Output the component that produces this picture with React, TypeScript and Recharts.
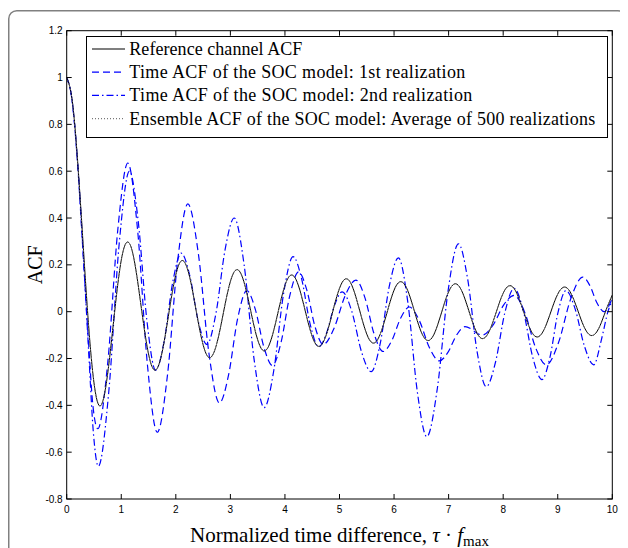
import React from "react";
import { LineChart, Line, XAxis, YAxis } from "recharts";

// reference channel ACF, sampled every 0.1 of tau*fmax from 0 to 10
const REF_ACF = [
  1.0, 0.904, 0.643, 0.291, -0.055, -0.304, -0.402, -0.343, -0.169, 0.045,
  0.22, 0.296, 0.26, 0.13, -0.038, -0.181, -0.248, -0.219, -0.11, 0.034,
  0.158, 0.217, 0.192, 0.097, -0.031, -0.141, -0.195, -0.173, -0.088, 0.028,
  0.129, 0.178, 0.159, 0.081, -0.026, -0.12, -0.166, -0.148, -0.075, 0.024,
  0.112, 0.155, 0.139, 0.07, -0.023, -0.106, -0.147, -0.131, -0.067, 0.022,
  0.1, 0.139, 0.125, 0.063, -0.021, -0.096, -0.133, -0.119, -0.06, 0.02,
  0.092, 0.127, 0.114, 0.058, -0.019, -0.088, -0.122, -0.11, -0.056, 0.019,
  0.085, 0.118, 0.106, 0.054, -0.018, -0.082, -0.114, -0.102, -0.052, 0.017,
  0.079, 0.11, 0.099, 0.05, -0.017, -0.077, -0.107, -0.096, -0.049, 0.017,
  0.075, 0.104, 0.094, 0.048, -0.016, -0.073, -0.101, -0.091, -0.046, 0.016,
  0.071,
];

// ensemble average lies on top of the reference curve
const ENSEMBLE_ACF = [
  1.0, 0.904, 0.643, 0.291, -0.055, -0.304, -0.402, -0.343, -0.169, 0.045,
  0.22, 0.296, 0.26, 0.13, -0.038, -0.181, -0.248, -0.219, -0.11, 0.034,
  0.158, 0.217, 0.192, 0.097, -0.031, -0.141, -0.195, -0.173, -0.088, 0.028,
  0.129, 0.178, 0.159, 0.081, -0.026, -0.12, -0.166, -0.148, -0.075, 0.024,
  0.112, 0.155, 0.139, 0.07, -0.023, -0.106, -0.147, -0.131, -0.067, 0.022,
  0.1, 0.139, 0.125, 0.063, -0.021, -0.096, -0.133, -0.119, -0.06, 0.02,
  0.092, 0.127, 0.114, 0.058, -0.019, -0.088, -0.122, -0.11, -0.056, 0.019,
  0.085, 0.118, 0.106, 0.054, -0.018, -0.082, -0.114, -0.102, -0.052, 0.017,
  0.079, 0.11, 0.099, 0.05, -0.017, -0.077, -0.107, -0.096, -0.049, 0.017,
  0.075, 0.104, 0.094, 0.048, -0.016, -0.073, -0.101, -0.091, -0.046, 0.016,
  0.071,
];

// 1st realization (dashed)
const SOC1_TAU = [
  0, 0.1, 0.2, 0.3, 0.4, 0.48, 0.57, 0.753, 0.937, 1.12, 1.3, 1.48, 1.66,
  1.847, 2.033, 2.22, 2.413, 2.607, 2.8, 2.967, 3.133, 3.3, 3.457, 3.613, 3.77,
  3.93, 4.09, 4.25, 4.4, 4.55, 4.7, 4.9, 5.1, 5.3, 5.467, 5.633, 5.8, 5.96,
  6.12, 6.28, 6.463, 6.647, 6.83, 6.987, 7.143, 7.3, 7.407, 7.513, 7.62, 7.813,
  8.007, 8.2, 8.397, 8.593, 8.79, 9.013, 9.237, 9.46, 9.59, 9.72, 9.85, 10,
];
const SOC1_ACF = [
  1.0, 0.9, 0.63, 0.25, -0.13, -0.4, -0.5, -0.216, 0.351, 0.635, 0.347, -0.228,
  -0.515, -0.271, 0.216, 0.46, 0.248, -0.178, -0.39, -0.27, -0.03, 0.09, 0.01,
  -0.15, -0.23, -0.13, 0.07, 0.17, 0.093, -0.063, -0.14, -0.071, 0.066, 0.135,
  0.059, -0.094, -0.17, -0.123, -0.028, 0.02, -0.038, -0.153, -0.21, -0.174,
  -0.101, -0.064, -0.073, -0.091, -0.1, -0.058, 0.028, 0.07, -0.004, -0.153,
  -0.227, -0.133, 0.054, 0.148, 0.111, 0.037, 0.0, 0.06,
];

// 2nd realization (dash-dot)
const SOC2_TAU = [
  0, 0.1, 0.2, 0.3, 0.4, 0.49, 0.58, 0.77, 0.96, 1.15, 1.31, 1.47, 1.63,
  1.787, 1.943, 2.1, 2.257, 2.413, 2.57, 2.737, 2.903, 3.07, 3.253, 3.437, 3.62,
  3.797, 3.973, 4.15, 4.307, 4.463, 4.62, 4.763, 4.907, 5.05, 5.227, 5.403,
  5.58, 5.747, 5.913, 6.08, 6.253, 6.427, 6.6, 6.793, 6.987, 7.18, 7.35, 7.52,
  7.69, 7.86, 8.03, 8.2, 8.37, 8.54, 8.71, 8.857, 9.003, 9.15, 9.32, 9.49,
  9.66, 9.8, 9.92, 10,
];
const SOC2_ACF = [
  1.0, 0.9, 0.64, 0.26, -0.16, -0.52, -0.66, -0.345, 0.285, 0.6, 0.388, -0.038,
  -0.25, -0.125, 0.125, 0.25, 0.153, -0.043, -0.14, -0.005, 0.265, 0.4, 0.198,
  -0.208, -0.41, -0.249, 0.074, 0.235, 0.139, -0.054, -0.15, -0.091, 0.026,
  0.085, 0.0, -0.171, -0.256, -0.135, 0.109, 0.23, 0.039, -0.343, -0.534,
  -0.328, 0.084, 0.29, 0.138, -0.168, -0.32, -0.215, -0.005, 0.1, 0.003,
  -0.193, -0.29, -0.195, -0.005, 0.09, 0.011, -0.148, -0.227, -0.12, 0.0, 0.05,
];

const X_TICKS = [0, 1, 2, 3, 4, 5, 6, 7, 8, 9, 10];
const Y_TICKS = [-0.8, -0.6, -0.4, -0.2, 0, 0.2, 0.4, 0.6, 0.8, 1, 1.2];

const LEGEND_LABELS = [
  "Reference channel ACF",
  "Time ACF of the SOC model: 1st realization",
  "Time ACF of the SOC model: 2nd realization",
  "Ensemble ACF of the SOC model: Average of 500 realizations",
];

const refData = REF_ACF.map((v, i) => ({ t: i / 10, v }));
const ensData = ENSEMBLE_ACF.map((v, i) => ({ t: i / 10, v }));
const soc1Data = SOC1_TAU.map((t, i) => ({ t, v: SOC1_ACF[i] }));
const soc2Data = SOC2_TAU.map((t, i) => ({ t, v: SOC2_ACF[i] }));

// wrapper coords (page minus 8px body margin)
const W = 620, H = 540;
const PLOT_L = 58.7, PLOT_R = 604.3, PLOT_T = 22.7, PLOT_B = 491;

const BLUE = "#0000ff";
const DASH = "7 4";
const DASHDOT = "7 3 1.5 3";
const DOT = "1 2";
const SERIF = "'Liberation Serif', 'Times New Roman', serif";
const SANS = "'Liberation Sans', Arial, sans-serif";

// rendered widths of the legend strings (Computer Modern is wider than Times)
const LEGEND_TEXT_W = [173, 336, 343, 466];

const fmt = (v: number) => (v < 0 ? "-" + Math.abs(v) : String(v));

const YTick = ({ y, payload }: any) => (
  <g>
    <line x1={PLOT_L} x2={PLOT_L + 5} y1={y} y2={y} stroke="#000" />
    <line x1={PLOT_R - 5} x2={PLOT_R} y1={y} y2={y} stroke="#000" />
    <text x={PLOT_L - 4} y={y} textAnchor="end" dominantBaseline="central"
      fontFamily={SANS} fontSize={10} fill="#000">{fmt(payload.value)}</text>
  </g>
);

const XTick = ({ x, payload }: any) => (
  <g>
    <line x1={x} x2={x} y1={PLOT_B - 5} y2={PLOT_B} stroke="#000" />
    <line x1={x} x2={x} y1={PLOT_T} y2={PLOT_T + 5} stroke="#000" />
    <text x={x} y={PLOT_B + 10} textAnchor="middle" dominantBaseline="central"
      fontFamily={SANS} fontSize={10} fill="#000">{payload.value}</text>
  </g>
);

const legendStyles = [
  { stroke: "#000", dash: undefined },
  { stroke: BLUE, dash: DASH },
  { stroke: BLUE, dash: DASHDOT },
  { stroke: "#777", dash: DOT },
];

export default function App() {
  return (
    <div style={{ position: "relative", width: W, height: H, overflow: "hidden", background: "#fff" }}>
      <LineChart width={W} height={H} margin={{ top: PLOT_T, right: W - PLOT_R, bottom: 0, left: 0 }}>
        <XAxis type="number" dataKey="t" domain={[0, 10]} ticks={X_TICKS} interval={0}
          tick={<XTick />} tickLine={false} axisLine={false} height={H - PLOT_B} allowDataOverflow />
        <YAxis type="number" domain={[-0.8, 1.2]} ticks={Y_TICKS} interval={0}
          tick={<YTick />} tickLine={false} axisLine={false} width={PLOT_L} allowDataOverflow />
        <Line data={soc1Data} dataKey="v" type="monotone" stroke={BLUE} strokeWidth={1.2}
          strokeDasharray={DASH} dot={false} isAnimationActive={false} />
        <Line data={soc2Data} dataKey="v" type="monotone" stroke={BLUE} strokeWidth={1.2}
          strokeDasharray={DASHDOT} dot={false} isAnimationActive={false} />
        <Line data={refData} dataKey="v" type="natural" stroke="#000" strokeWidth={1}
          dot={false} isAnimationActive={false} />
        <Line data={ensData} dataKey="v" type="natural" stroke="#8a8a8a" strokeWidth={1}
          strokeDasharray={DOT} dot={false} isAnimationActive={false} />
      </LineChart>

      <svg width={W} height={H} style={{ position: "absolute", left: 0, top: 0, pointerEvents: "none" }}>
        <rect x={0.75} y={2.75} width={617} height={600} rx={8} fill="none" stroke="#808080" strokeWidth={1.5} />
        <rect x={PLOT_L} y={PLOT_T} width={PLOT_R - PLOT_L} height={PLOT_B - PLOT_T} fill="none" stroke="#000" strokeWidth={1} />
        <g transform="translate(78,28)">
          <rect x={0.5} y={0.5} width={521} height={101} fill="#fff" stroke="#000" strokeWidth={1} />
          {LEGEND_LABELS.map((label, i) => {
            const ly = 13 + i * 23.2;
            const s = legendStyles[i];
            return (
              <g key={label}>
                <line x1={6} x2={39} y1={ly} y2={ly} stroke={s.stroke} strokeWidth={1.2} strokeDasharray={s.dash} />
                <text x={43.3} y={ly + 6} fontFamily={SERIF} fontSize={18} fill="#000"
                  textLength={LEGEND_TEXT_W[i]} lengthAdjust="spacing">{label}</text>
              </g>
            );
          })}
        </g>
        <text transform={`translate(34,${(PLOT_T + PLOT_B) / 2}) rotate(-90)`} textAnchor="middle"
          fontFamily={SERIF} fontSize={20} fill="#000">ACF</text>
        <text x={(PLOT_L + PLOT_R) / 2} y={533.5} textAnchor="middle" fontFamily={SERIF} fontSize={21} fill="#000">
          Normalized time difference, <tspan fontStyle="italic">τ</tspan> · <tspan fontStyle="italic">f</tspan>
          <tspan fontSize={15} dy={4}>max</tspan>
        </text>
      </svg>
    </div>
  );
}
